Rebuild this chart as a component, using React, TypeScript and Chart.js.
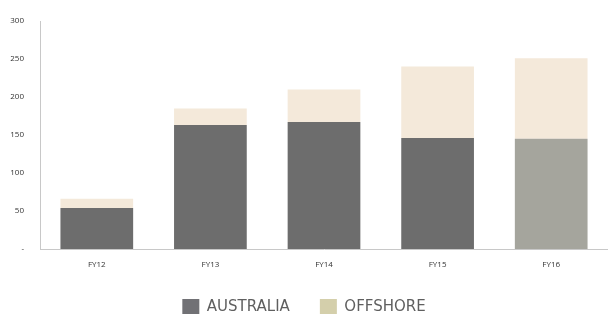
import React, { useEffect, useRef } from 'react';
import { Chart, registerables } from 'chart.js';

Chart.register(...registerables);

const categories = ['FY12', 'FY13', 'FY14', 'FY15', 'FY16'];
const australia = [54, 163, 167, 146, 145];
const offshore = [12, 22, 43, 94, 106];
const seriesNames = ['AUSTRALIA', 'OFFSHORE'];
const yMin = 0;
const yMax = 300;
const yStep = 50;

const AUS_COLORS = ['#6d6d6d', '#6d6d6d', '#6d6d6d', '#6d6d6d', '#a5a59d'];
const OFF_COLOR = '#f4e9da';
const LEGEND_COLORS = ['#717175', '#d4cfab'];
const AXIS_COLOR = '#c8c8c8';

const legendHeightPlugin = {
  id: 'legendHeight',
  beforeLayout(chart: any) {
    const lg = chart.legend;
    if (lg && !lg.__patched) {
      const orig = lg.fit.bind(lg);
      lg.fit = function () {
        orig();
        this.height = 45;
      };
      lg.__patched = true;
    }
  },
};

export default function App() {
  const ref = useRef<HTMLCanvasElement | null>(null);

  useEffect(() => {
    if (!ref.current) return;
    const chart = new Chart(ref.current, {
      type: 'bar',
      data: {
        labels: categories,
        datasets: [
          {
            label: seriesNames[0],
            data: australia,
            backgroundColor: AUS_COLORS,
            borderWidth: 0,
            barPercentage: 0.64,
            categoryPercentage: 1,
          },
          {
            label: seriesNames[1],
            data: offshore,
            backgroundColor: OFF_COLOR,
            borderWidth: 0,
            barPercentage: 0.64,
            categoryPercentage: 1,
          },
        ],
      },
      plugins: [legendHeightPlugin],
      options: {
        animation: false,
        responsive: true,
        maintainAspectRatio: false,
        layout: { padding: { top: 21, right: 0, left: 0, bottom: 0 } },
        scales: {
          x: {
            stacked: true,
            grid: { display: false, drawTicks: false },
            border: { color: AXIS_COLOR, width: 1 },
            ticks: {
              color: '#333',
              padding: 11,
              font: { family: 'Open Sans', size: 8 },
            },
            afterFit: (s: any) => {
              s.height = 20;
            },
          },
          y: {
            stacked: true,
            min: yMin,
            max: yMax,
            grid: { display: false },
            border: { color: AXIS_COLOR, width: 1 },
            ticks: {
              stepSize: yStep,
              color: '#333',
              padding: 8,
              font: { family: 'Open Sans', size: 8 },
              callback: (v: any) => (Number(v) === 0 ? '-' : String(v)),
            },
            afterFit: (s: any) => {
              s.width = 40;
            },
          },
        },
        plugins: {
          tooltip: { enabled: false },
          legend: {
            position: 'bottom',
            labels: {
              boxWidth: 17,
              boxHeight: 17,
              padding: 30,
              color: '#5f5f5f',
              font: { family: 'DejaVu Sans', size: 15 },
              generateLabels: () =>
                seriesNames.map((name, i) => ({
                  text: name,
                  fillStyle: LEGEND_COLORS[i],
                  strokeStyle: 'rgba(0,0,0,0)',
                  lineWidth: 0,
                  fontColor: '#5f5f5f',
                  hidden: false,
                  datasetIndex: i,
                })),
            },
          },
        },
      },
    });
    return () => chart.destroy();
  }, []);

  return (
    <div style={{ position: 'fixed', left: 0, top: 0, width: 608, height: 314, background: '#fff' }}>
      <canvas ref={ref} />
    </div>
  );
}
